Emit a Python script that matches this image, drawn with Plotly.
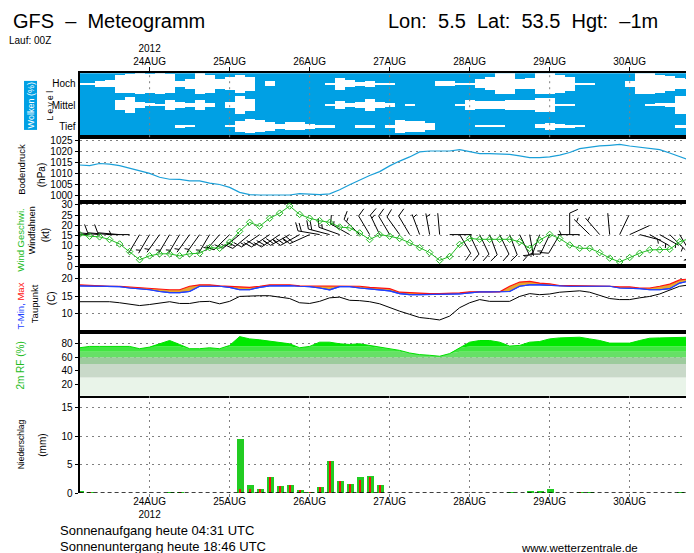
import numpy as np
import pandas as pd
import plotly.graph_objects as go

W, H = 694, 553

# ---------------- data ----------------
times = pd.date_range("2012-08-23 03:00", periods=63, freq="3h")
x_range = ["2012-08-23 03:00", "2012-08-30 21:00"]
day_ticks = list(pd.date_range("2012-08-24", "2012-08-30", freq="D"))
day_names = ["24AUG", "25AUG", "26AUG", "27AUG", "28AUG", "29AUG", "30AUG"]
year_label = "2012"

cloud_high = [8, 8, 28, 32, 83, 92, 97, 92, 97, 92, 28, 46, 97, 83, 46, 60, 83, 65, 0, 23, 0,
              0, 0, 0, 0, 8, 55, 35, 18, 28, 8, 8, 0, 0, 0, 0, 26, 26, 8, 8, 43, 60,
              97, 97, 46, 50, 97, 97, 83, 65, 6, 6, 0, 0, 0, 28, 97, 97, 83, 70, 50, 46, 97]
cloud_mid = [0, 0, 0, 0, 50, 74, 28, 14, 5, 50, 32, 18, 46, 23, 0, 28, 83, 55, 0, 0, 0,
             0, 0, 0, 0, 5, 42, 17, 32, 55, 32, 17, 0, 5, 0, 0, 0, 0, 6, 50, 37, 37,
             37, 50, 50, 50, 69, 63, 9, 5, 0, 0, 0, 0, 0, 0, 0, 5, 14, 23, 88, 83, 88]
cloud_low = [0, 0, 0, 0, 0, 0, 0, 0, 0, 0, 9, 5, 0, 0, 0, 5, 51, 65, 55, 42, 23,
             37, 37, 23, 14, 14, 0, 0, 14, 14, 0, 14, 60, 51, 51, 32, 0, 0, 0, 0, 6, 6,
             6, 0, 0, 0, 17, 32, 17, 9, 5, 0, 0, 0, 0, 0, 0, 0, 0, 0, 9, 14, 18]

pressure = [1013.8, 1013.5, 1014.5, 1014.2, 1013.5, 1012.3, 1011.4, 1010.0, 1008.2, 1007.3,
            1007.2, 1006.6, 1006.6, 1005.5, 1004.9, 1003.6, 1001.3, 1000.3, 1000.1, 1000.1,
            1000.1, 1000.1, 1000.7, 1000.6, 1000.3, 1000.6, 1002.5, 1004.8, 1007.0, 1009.0,
            1010.8, 1013.4, 1015.6, 1017.5, 1019.8, 1020.2, 1020.2, 1020.2, 1020.8, 1019.8,
            1019.0, 1019.0, 1019.0, 1018.7, 1018.0, 1017.2, 1017.2, 1017.5, 1018.3, 1019.5,
            1021.3, 1022.0, 1022.5, 1022.8, 1023.2, 1022.5, 1022.0, 1021.6, 1020.8, 1019.3,
            1017.5, 1016.0, 1013.8]

wind_speed = [15.6, 14.7, 14.4, 13.1, 10.9, 7.2, 3.2, 5.1, 6.1, 6.1,
              5.1, 6.1, 6.4, 9.1, 8.8, 11.8, 17.1, 21.5, 19.6, 23.5,
              26.0, 29.5, 25.4, 23.5, 22.3, 21.5, 19.2, 18.8, 16.3, 13.1,
              15.5, 14.7, 13.6, 11.5, 9.1, 6.7, 2.9, 4.8, 10.7, 13.6,
              13.2, 13.2, 13.2, 13.2, 12.0, 8.8, 12.8, 15.6, 13.6, 10.4,
              8.8, 8.8, 6.7, 4.0, 2.1, 4.3, 6.4, 8.0, 8.0, 8.3,
              12.0, 13.6, 16.8]
wind_dir = [270, 270, 275, 275, 275, 270, 210, 210, 215, 210,
            210, 215, 215, 210, 220, 225, 230, 230, 235, 235,
            235, 240, 240, 245, 280, 285, 290, 300, 315, 330,
            335, 330, 325, 330, 340, 350, 355, 90, 150, 155,
            155, 160, 155, 160, 155, 170, 200, 205, 210, 0,
            270, 315, 320, 355, 25, 65, 105, 120, 120, 135,
            150, 175, 180]
barb_level = 15.5

tmax = [18.3, 18.1, 17.9, 17.9, 17.9, 17.7, 17.4, 17.2, 16.9, 16.9,
        16.9, 17.9, 18.3, 18.3, 18.0, 17.9, 17.6, 17.6, 17.9, 18.3,
        18.3, 18.3, 18.0, 18.0, 17.9, 17.9, 18.1, 18.0, 17.9, 17.6,
        17.4, 17.2, 16.2, 16.0, 15.8, 15.8, 15.8, 15.8, 16.0, 16.3,
        16.3, 16.3, 16.3, 17.9, 19.1, 19.3, 18.8, 18.6, 18.1, 18.1,
        18.1, 18.1, 18.0, 17.9, 17.7, 17.7, 17.4, 17.4, 17.9, 18.5,
        19.7, 20.0, 20.0]
tmin = [18.0, 17.9, 17.9, 17.9, 17.8, 17.4, 17.2, 16.9, 16.4, 16.1,
        16.1, 16.4, 17.9, 18.0, 17.9, 17.6, 16.9, 16.9, 17.6, 18.0,
        18.1, 18.1, 17.9, 17.8, 17.4, 16.9, 17.8, 17.8, 17.4, 17.2,
        16.9, 16.6, 15.8, 15.5, 15.5, 15.5, 15.5, 15.5, 15.7, 16.0,
        16.3, 16.3, 16.3, 16.4, 17.9, 18.3, 18.3, 18.1, 17.9, 17.9,
        17.9, 17.9, 17.9, 17.9, 17.4, 17.4, 17.2, 16.9, 16.9, 17.2,
        18.8, 19.4, 19.4]
dewpoint = [13.5, 13.5, 13.5, 13.5, 13.2, 12.9, 12.4, 12.7, 13.0, 13.5,
            13.0, 13.0, 13.5, 13.6, 12.9, 13.6, 15.0, 15.2, 15.2, 15.2,
            14.9, 14.4, 13.2, 13.0, 13.6, 14.6, 14.8, 13.9, 13.8, 13.5,
            12.9, 11.8, 10.8, 9.9, 9.0, 8.7, 8.3, 9.4, 11.8, 13.2,
            14.1, 13.6, 13.5, 13.6, 15.0, 15.8, 15.5, 15.7, 16.2, 16.4,
            16.6, 16.2, 15.2, 14.4, 14.1, 14.1, 14.6, 15.0, 15.7, 16.9,
            17.9, 18.3, 18.3]

rh = [74.1, 76.1, 76.1, 76.1, 76.1, 76.1, 72.7, 75.1, 80.0, 84.9,
      79.0, 72.7, 72.7, 74.1, 72.7, 77.6, 90.7, 87.3, 85.9, 83.9,
      82.4, 80.0, 74.1, 76.1, 82.4, 82.4, 80.0, 79.0, 80.0, 77.6,
      74.1, 71.7, 70.2, 66.3, 63.9, 62.9, 61.5, 65.4, 74.1, 82.4,
      84.9, 84.9, 82.4, 76.6, 77.6, 82.4, 83.4, 87.3, 88.8, 89.8,
      89.8, 87.3, 84.9, 81.0, 81.0, 81.0, 84.9, 88.3, 88.8, 88.8,
      88.8, 89.8, 92.2]
rh_bands = [30, 50, 60, 68, 76]

precip_total = [0.46, 0.1, 0.05, 0, 0, 0, 0, 0, 0, 0.3,
                0.3, 0, 0, 0, 0, 0, 9.5, 1.56, 0.7, 2.8,
                1.27, 1.4, 0.52, 0.17, 1.04, 5.7, 2.1, 1.7, 2.8, 3.1,
                1.56, 0, 0.05, 0, 0.05, 0, 0, 0, 0, 0,
                0, 0, 0, 0.17, 0, 0.35, 0.35, 0.7, 0, 0,
                0.17, 0.1, 0, 0, 0, 0, 0, 0, 0, 0,
                0.1, 0.7, 6.6]
precip_conv = [0.3, 0.1, 0.05, 0, 0, 0, 0, 0, 0, 0,
               0.3, 0, 0, 0, 0, 0, 0.7, 0.8, 0.7, 2.8,
               1.27, 1.4, 0.52, 0.17, 1.04, 5.7, 2.1, 1.7, 2.4, 2.8,
               1.56, 0, 0.05, 0, 0.05, 0, 0, 0, 0, 0,
               0, 0, 0, 0, 0, 0, 0, 0, 0, 0,
               0.17, 0.05, 0, 0, 0, 0, 0, 0, 0, 0,
               0, 0.7, 4.5]

# ---------------- styles / geometry ----------------
FONT = "Liberation Sans"
CLOUD_BLUE = "#00a0e4"
GRID = dict(showgrid=True, gridcolor="#808080", griddash="2px,4px", gridwidth=1)


def px_x(p):
    return p / W


def px_y(p):
    return 1 - p / H


XD = [px_x(71.7), px_x(692.7)]
panels = {  # pixel top, bottom
    1: (63.3, 128.3),
    2: (128.3, 194.3),
    3: (194.3, 259.7),
    4: (259.7, 326.0),
    5: (326.0, 391.0),
    6: (391.0, 490.0),
}

fig = go.Figure()

# ---------------- clouds ----------------
for centre, cover in [(0.5, cloud_low), (1.5, cloud_mid), (2.5, cloud_high)]:
    h = np.array(cover) / 100.0
    fig.add_trace(go.Bar(x=times, y=h, base=centre - h / 2,
                         marker=dict(color="white", line=dict(width=0)),
                         xaxis="x", yaxis="y", showlegend=False))

# ---------------- pressure ----------------
fig.add_trace(go.Scatter(x=times, y=pressure, mode="lines",
                         line=dict(color="#1a9fd8", width=1.2),
                         xaxis="x2", yaxis="y2", showlegend=False))

# ---------------- wind barbs ----------------
H_PER_PX = 24.0 / 80.0      # hours per pixel
KT_PER_PX = 1 / 2.09        # kt per pixel
bx, by = [], []
for t, d, s in zip(times, wind_dir, wind_speed):
    th = np.deg2rad(d)
    u = np.array([np.sin(th), np.cos(th)])
    p = np.array([u[1], -u[0]])
    L = 22.0
    segs = [(np.zeros(2), u * L)]
    a = np.deg2rad(65)
    fv = np.cos(a) * u + np.sin(a) * p
    nfull = int(s // 10)
    half = (s - 10 * nfull) >= 5
    pos = L
    for k in range(nfull):
        P = u * pos
        segs.append((P, P + fv * 9))
        pos -= 3.5
    if half:
        if nfull == 0:
            pos -= 3.5
        P = u * pos
        segs.append((P, P + fv * 4.5))
    for a0, a1 in segs:
        for q in (a0, a1):
            bx.append(t + pd.Timedelta(hours=float(q[0] * H_PER_PX)))
            by.append(barb_level + q[1] * KT_PER_PX)
        bx.append(None)
        by.append(None)
fig.add_trace(go.Scatter(x=bx, y=by, mode="lines", line=dict(color="black", width=1),
                         xaxis="x3", yaxis="y3", showlegend=False))
fig.add_trace(go.Scatter(x=times, y=wind_speed, mode="lines+markers",
                         line=dict(color="#22bb22", width=1),
                         marker=dict(symbol="diamond-open", size=5, color="#22bb22",
                                     line=dict(width=1)),
                         xaxis="x3", yaxis="y3", showlegend=False))

# ---------------- temperature ----------------
fig.add_trace(go.Scatter(x=times, y=tmin, mode="lines", line=dict(color="#2040ff", width=1.2),
                         xaxis="x4", yaxis="y4", showlegend=False))
fig.add_trace(go.Scatter(x=times, y=tmax, mode="lines", line=dict(color="#ff1010", width=1.2),
                         fill="tonexty", fillcolor="#e6a532",
                         xaxis="x4", yaxis="y4", showlegend=False))
fig.add_trace(go.Scatter(x=times, y=tmin, mode="lines", line=dict(color="#2040ff", width=1.2),
                         xaxis="x4", yaxis="y4", showlegend=False))
fig.add_trace(go.Scatter(x=times, y=dewpoint, mode="lines", line=dict(color="black", width=1),
                         xaxis="x4", yaxis="y4", showlegend=False))

# ---------------- humidity ----------------
band_colors = ["#e9f4e9", "#c9d9c9", "#9dcb9d", "#66e066", "#40e640"]
rh_arr = np.array(rh)
for k, thr in enumerate(rh_bands):
    fig.add_trace(go.Scatter(x=times, y=np.minimum(rh_arr, thr), mode="lines",
                             line=dict(width=0), fill="tozeroy" if k == 0 else "tonexty",
                             fillcolor=band_colors[k], xaxis="x5", yaxis="y5",
                             showlegend=False))
fig.add_trace(go.Scatter(x=times, y=rh_arr, mode="lines", line=dict(color="#00e000", width=1),
                         fill="tonexty", fillcolor="#00e800",
                         xaxis="x5", yaxis="y5", showlegend=False))

# ---------------- precipitation ----------------
fig.add_trace(go.Bar(x=times, y=precip_total, width=2.1 * 3600 * 1000,
                     marker=dict(color="#22cc22", line=dict(width=0)),
                     xaxis="x6", yaxis="y6", showlegend=False))
fig.add_trace(go.Bar(x=times, y=precip_conv, width=0.6 * 3600 * 1000,
                     marker=dict(color="#ee1111", line=dict(width=0)),
                     xaxis="x6", yaxis="y6", showlegend=False))

# ---------------- axes ----------------
yranges = {1: [0, 3], 2: [996.85, 1026.5], 3: [-0.1, 31.4], 4: [4.96, 23.53],
           5: [2.9, 98.0], 6: [0, 17.13]}
yticks = {2: [1000, 1005, 1010, 1015, 1020, 1025], 3: [0, 5, 10, 15, 20, 25, 30],
          4: [10, 15, 20], 5: [20, 40, 60, 80], 6: [0, 5, 10, 15]}

layout = dict(width=W, height=H, margin=dict(l=0, r=0, t=0, b=0),
              paper_bgcolor="white", plot_bgcolor="white", barmode="overlay",
              bargap=0, font=dict(family=FONT, color="black", size=11), showlegend=False)

for n in range(1, 7):
    xs = "" if n == 1 else str(n)
    top, bot = panels[n]
    xa = dict(type="date", range=x_range, domain=XD, anchor="y" + xs,
              showline=True, mirror=True, linecolor="black", linewidth=2,
              showgrid=False, zeroline=False, tickvals=day_ticks, showticklabels=False,
              ticks="")
    if n > 1:
        xa["matches"] = "x"
    if n == 1:
        xa.update(side="top", showticklabels=True, ticks="outside", ticklen=4,
                  tickcolor="black",
                  ticktext=[year_label + "<br>" + day_names[0]] + day_names[1:],
                  tickfont=dict(size=10), ticklabelstandoff=-2)
    if n == 6:
        xa.update(showline=False, showticklabels=True, ticks="outside", ticklen=3,
                  tickcolor="#808080",
                  ticktext=[day_names[0] + "<br>" + year_label] + day_names[1:],
                  tickfont=dict(size=10), ticklabelstandoff=-4, **GRID)
    ya = dict(domain=[px_y(bot), px_y(top)], anchor="x" + xs, range=yranges[n],
              showline=True, mirror=True, linecolor="black", linewidth=2,
              zeroline=False, fixedrange=True)
    if n == 1:
        ya.update(tickvals=[0.5, 1.5, 2.5], ticktext=["Tief", "Mittel", "Hoch"],
                  ticks="", showgrid=False, tickfont=dict(size=10))
    else:
        ya.update(tickvals=yticks[n], ticks="outside", ticklen=3, tickcolor="black",
                  tickfont=dict(size=10), **GRID)
    layout["xaxis" + xs] = xa
    layout["yaxis" + xs] = ya

fig.update_layout(**layout)

# cloud background and day lines
shapes = [dict(type="rect", xref="x domain", yref="y domain", x0=0, x1=1, y0=0, y1=1,
               fillcolor=CLOUD_BLUE, line=dict(width=0), layer="below")]
for d in day_ticks:
    shapes.append(dict(type="line", xref="x", yref="y domain", x0=d, x1=d, y0=0, y1=1,
                       line=dict(color="#808080", width=1, dash="2px,4px"), layer="above"))
shapes.append(dict(type="line", xref="x6 domain", yref="y6", x0=0, x1=1, y0=0, y1=0,
                   line=dict(color="black", width=1.5, dash="4px,3px"), layer="above"))
fig.update_layout(shapes=shapes)

# ---------------- texts ----------------
ann = []


def txt(text, x, y, size, xanchor="center", yanchor="middle", angle=0, color="black", **kw):
    ann.append(dict(text=text, x=px_x(x), y=px_y(y), xref="paper", yref="paper",
                    xanchor=xanchor, yanchor=yanchor, textangle=angle, showarrow=False,
                    font=dict(family=FONT, size=size, color=color), **kw))


txt("GFS\u00a0\u00a0–\u00a0\u00a0Meteogramm", 3, 10, 20, xanchor="left")
txt("Lon:\u00a0\u00a05.5\u00a0\u00a0Lat:\u00a0\u00a053.5\u00a0\u00a0Hgt:\u00a0\u00a0–1m", 379, 10, 20,
    xanchor="left")
txt("Lauf: 00Z", -1, 30, 10, xanchor="left")

txt("Wolken (%)", 22.5, 95.5, 9, angle=-90, color="white", bgcolor=CLOUD_BLUE, borderpad=1)
txt("L e v e l", 42, 96, 8.5, angle=-90)

txt("Bodendruck", 13.5, 161, 9.5, angle=-90)
txt("(hPa)", 33, 167, 10, angle=-90)

txt("Wind Geschwi.", 12.5, 233, 9.5, angle=-90, color="#22bb22")
txt("Windfahnen", 24, 223, 9, angle=-90)
txt("(kt)", 37, 228, 10, angle=-90)

txt("<span style='color:#2040ff'>T-Min,</span> <span style='color:#ff1010'>Max</span>",
    12.5, 300, 9.5, angle=-90)
txt("Taupunkt", 26, 297, 9.5, angle=-90)
txt("(C)", 43, 292, 10, angle=-90)

txt("2m RF (%)", 12.5, 360, 10, angle=-90, color="#22bb22")

txt("Niederschlag", 12.5, 440, 8.5, angle=-90)
txt("(mm)", 35, 441, 10, angle=-90)

txt("Sonnenaufgang heute 04:31 UTC", 50, 528, 13, xanchor="left")
txt("Sonnenuntergang heute 18:46 UTC", 50, 544, 13, xanchor="left")
txt("www.wetterzentrale.de", 512, 546, 11.5, xanchor="left")

fig.update_layout(annotations=ann)

fig.write_html("out.html", config={"displayModeBar": False})
